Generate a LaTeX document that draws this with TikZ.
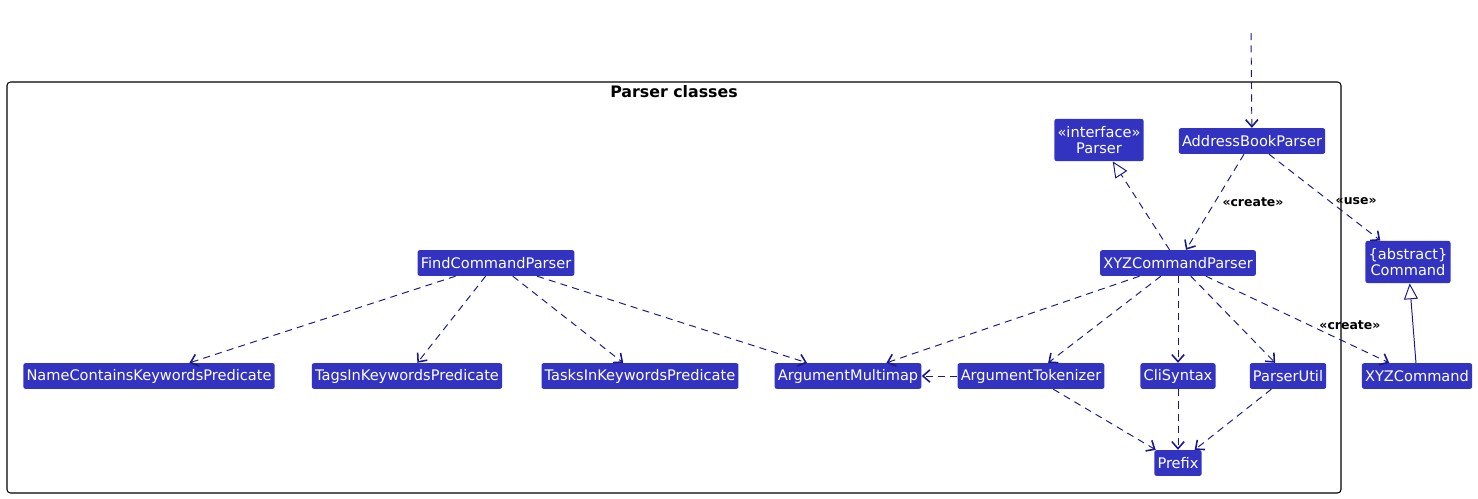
\documentclass[tikz,border=0pt]{standalone}
\usepackage{fontspec}
\setmainfont{DejaVu Sans}
\usetikzlibrary{arrows.meta}

\definecolor{boxblue}{RGB}{51,51,194}
\definecolor{linkblue}{RGB}{24,24,140}

\begin{document}
\begin{tikzpicture}[x=0.02cm, y=-0.02cm,
  cls/.style={fill=boxblue, text=white, rounded corners=1.2pt, font=\fontsize{8.3}{9.3}\selectfont,
    inner xsep=1.8pt, inner ysep=0pt, minimum height=14.6pt, align=center},
  dep/.style={linkblue, dash pattern=on 4pt off 3pt, line width=0.55pt,
    -{Straight Barb[length=4pt,width=7pt,line width=0.9pt]}},
  impl/.style={linkblue, line width=0.55pt, -{Triangle[open,length=9pt,width=8pt,fill=white]}},
  lbl/.style={text=black, font=\bfseries\fontsize{7.1}{8}\selectfont, inner sep=1pt}]
\useasboundingbox (0,0) rectangle (1478,498);

% package frame
\draw[black, line width=0.6pt, rounded corners=2pt] (7,82) rectangle (1341,493);
\node[font=\bfseries\fontsize{9}{10}\selectfont] (title) at (674,92) {Parser classes};

% classes
\node[cls, minimum height=24pt] (parser) at (1099,140) {«interface»\\Parser};
\node[cls] (abp) at (1252,141) {AddressBookParser};
\node[cls, minimum height=24pt] (command) at (1408,262) {\{abstract\}\\Command};
\node[cls] (xyzparser) at (1178,263) {XYZCommandParser};
\node[cls] (findparser) at (496,263) {FindCommandParser};
\node[cls] (namepred) at (149,376) {NameContainsKeywordsPredicate};
\node[cls] (tagspred) at (407,376) {TagsInKeywordsPredicate};
\node[cls] (taskspred) at (640,376) {TasksInKeywordsPredicate};
\node[cls] (multimap) at (848,376) {ArgumentMultimap};
\node[cls] (tokenizer) at (1031,376) {ArgumentTokenizer};
\node[cls] (clisyntax) at (1178,376) {CliSyntax};
\node[cls] (parserutil) at (1288,376) {ParserUtil};
\node[cls] (xyzcommand) at (1417,376) {XYZCommand};
\node[cls] (prefix) at (1178,463) {Prefix};

\coordinate (entry) at (1251,33);

% links
\draw[dep] (entry) -- (abp);
\draw[impl, dash pattern=on 4pt off 3pt] (xyzparser) -- (parser);
\draw[dep] (abp) -- node[lbl, anchor=west, xshift=3pt] (create1) {«create»} (xyzparser);
\draw[dep] (abp) -- node[lbl, anchor=west, xshift=5pt, yshift=-2pt] (use) {«use»} (command);
\draw[impl] (xyzcommand) -- (command);
\draw[dep] (xyzparser) -- node[lbl, anchor=west, pos=0.55, xshift=6pt, yshift=-1pt] (create2) {«create»} (xyzcommand);

\draw[dep] (xyzparser) -- (multimap);
\draw[dep] (xyzparser) -- (tokenizer);
\draw[dep] (xyzparser) -- (clisyntax);
\draw[dep] (xyzparser) -- (parserutil);

\draw[dep] (findparser) -- (namepred);
\draw[dep] (findparser) -- (tagspred);
\draw[dep] (findparser) -- (taskspred);
\draw[dep] (findparser) -- (multimap);

\draw[dep] (tokenizer) -- (multimap);
\draw[dep] (tokenizer) -- (prefix);
\draw[dep] (clisyntax) -- (prefix);
\draw[dep] (parserutil) -- (prefix);

\end{tikzpicture}
\end{document}
